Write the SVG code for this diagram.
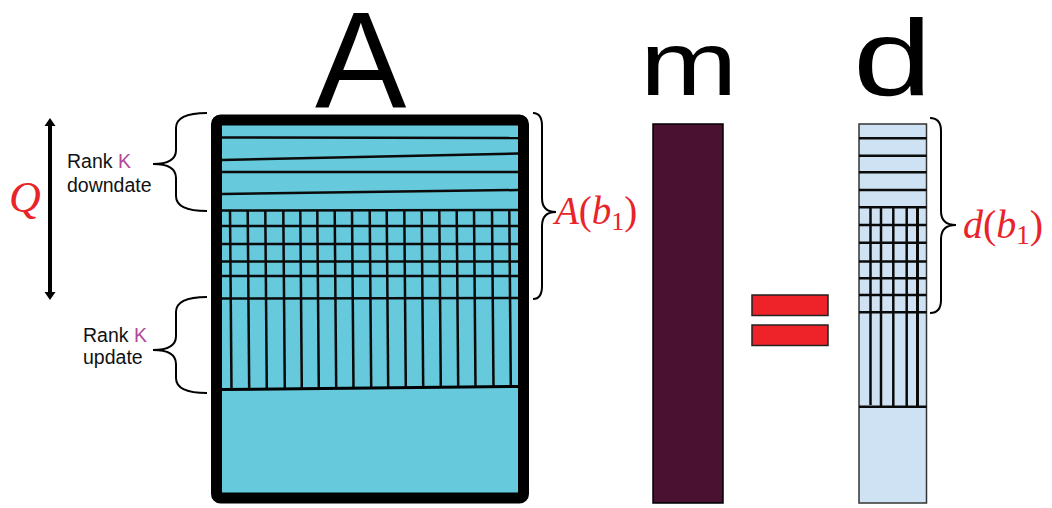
<svg xmlns="http://www.w3.org/2000/svg" width="1052" height="508" viewBox="0 0 1052 508">
<style>
.title{font-family:"Liberation Sans",Arial,sans-serif;fill:#000}
.lbl{font-family:"Liberation Sans",Arial,sans-serif;font-size:19.5px;fill:#111}
.k{fill:#B0479C}
.math{font-family:"Liberation Serif","Times New Roman",serif;fill:#E8232A}
.brace{fill:none;stroke:#000;stroke-width:2}
.gl{stroke:#0a0a0a;stroke-width:2.5;fill:none}
.dl{stroke:#0a0a0a;stroke-width:2.5;fill:none}
</style>
<rect width="1052" height="508" fill="#fff"/>

<g id="title-A"><text class="title" x="315" y="108" font-size="137">A</text></g>
<g id="title-m"><text class="title" transform="translate(640,95) scale(1.3,1)" x="0" y="0" font-size="90">m</text></g>
<g id="title-d"><text class="title" transform="translate(853,95) scale(1.33,1)" x="0" y="0" font-size="107">d</text></g>

<g id="matrix-A">
  <rect x="216.5" y="120" width="307" height="378" rx="4" fill="#66C9DC" stroke="#000" stroke-width="11"/>
  <g class="gl">
    <line x1="222" y1="137.5" x2="518" y2="138"/>
    <line x1="222" y1="160" x2="518" y2="153.5"/>
    <line x1="222" y1="172" x2="518" y2="172"/>
    <line x1="222" y1="194" x2="518" y2="190"/>
    <line x1="222" y1="210.5" x2="518" y2="210"/>
    <line x1="222" y1="226" x2="518" y2="226"/>
    <line x1="222" y1="244" x2="518" y2="244"/>
    <line x1="222" y1="261.5" x2="518" y2="261.5"/>
    <line x1="222" y1="276" x2="518" y2="276"/>
    <line x1="222" y1="298.5" x2="518" y2="298"/>
    <line x1="230" y1="210" x2="231.5" y2="389"/>
    <line x1="247.7" y1="210" x2="249.2" y2="389"/>
    <line x1="265.3" y1="210" x2="266.8" y2="389"/>
    <line x1="283.3" y1="210" x2="284.8" y2="388.7"/>
    <line x1="300.3" y1="210" x2="301.8" y2="388.5"/>
    <line x1="317.3" y1="210" x2="318.8" y2="388.3"/>
    <line x1="334.7" y1="210" x2="336.2" y2="388.2"/>
    <line x1="352" y1="210" x2="353.5" y2="388"/>
    <line x1="369.7" y1="210" x2="371.2" y2="387.9"/>
    <line x1="386.7" y1="210" x2="388.2" y2="387.7"/>
    <line x1="404.3" y1="210" x2="405.8" y2="387.5"/>
    <line x1="421.7" y1="210" x2="423.2" y2="387.4"/>
    <line x1="439.3" y1="210" x2="440.8" y2="387.2"/>
    <line x1="456.7" y1="210" x2="458.2" y2="387.1"/>
    <line x1="474" y1="210" x2="475.5" y2="387"/>
    <line x1="492" y1="210" x2="493.5" y2="386.8"/>
    <line x1="509.3" y1="210" x2="510.8" y2="386.7"/>
  </g>
  <line x1="222" y1="389.5" x2="518" y2="386.5" stroke="#000" stroke-width="3"/>
</g>

<g id="vector-m">
  <rect x="653" y="124" width="70" height="379" fill="#4A1230" stroke="#000" stroke-width="1.5"/>
</g>

<g id="equals">
  <rect x="752" y="295" width="76" height="20.5" fill="#EE2229" stroke="#222" stroke-width="1.5"/>
  <rect x="752" y="325" width="76" height="20.5" fill="#EE2229" stroke="#222" stroke-width="1.5"/>
</g>

<g id="vector-d">
  <rect x="859" y="124" width="67.5" height="379" fill="#CFE2F3" stroke="#333" stroke-width="1.5"/>
  <g class="dl">
    <line x1="859" y1="138.3" x2="926.5" y2="138.3"/>
    <line x1="859" y1="155.7" x2="926.5" y2="155.7"/>
    <line x1="859" y1="172.3" x2="926.5" y2="172.3"/>
    <line x1="859" y1="190" x2="926.5" y2="190"/>
    <line x1="859" y1="207.3" x2="926.5" y2="207.3"/>
    <line x1="859" y1="225" x2="926.5" y2="225"/>
    <line x1="859" y1="242.7" x2="926.5" y2="242.7"/>
    <line x1="859" y1="261.5" x2="926.5" y2="261.5"/>
    <line x1="859" y1="278.3" x2="926.5" y2="278.3"/>
    <line x1="859" y1="295" x2="926.5" y2="295"/>
    <line x1="859" y1="312.3" x2="926.5" y2="312.3"/>
    <line x1="859" y1="406.7" x2="926.5" y2="406.7"/>
    <line x1="870.5" y1="207" x2="870.5" y2="405"/>
    <line x1="881" y1="207" x2="881" y2="406"/>
    <line x1="893.3" y1="207" x2="893.3" y2="406"/>
    <line x1="906.7" y1="207" x2="906.7" y2="406"/>
    <line x1="917.5" y1="207" x2="917.5" y2="406" stroke-width="3"/>
  </g>
</g>

<g id="connectors">
  <path class="brace" d="M207,113 Q176,113 176,128 L176,150 Q176,164 153,164 Q176,164 176,178 L176,196 Q176,211 207,211"/>
  <path class="brace" d="M207,297 Q176,297 176,312 L176,336 Q176,350 153,350 Q176,350 176,364 L176,378 Q176,393 207,393"/>
  <path class="brace" d="M533,113 Q542,113 542,126 L542,198 Q542,212 556,212 Q542,212 542,226 L542,286 Q542,299 533,299"/>
  <path class="brace" d="M930,118 Q941,118 941,131 L941,211 Q941,225 956,225 Q941,225 941,239 L941,300 Q941,313 930,313"/>
  <g id="q-arrow">
    <line x1="50" y1="124" x2="50" y2="294" stroke="#000" stroke-width="4"/>
    <polygon points="50,118 44.5,126 55.5,126" fill="#000"/>
    <polygon points="50,300 44.5,292 55.5,292" fill="#000"/>
  </g>
</g>

<g id="label-downdate">
  <text class="lbl" x="67" y="168">Rank <tspan class="k">K</tspan></text>
  <text class="lbl" x="67" y="192">downdate</text>
</g>
<g id="label-update">
  <text class="lbl" x="83" y="342">Rank <tspan class="k">K</tspan></text>
  <text class="lbl" x="83" y="364">update</text>
</g>
<g id="label-Q"><text class="math" x="9" y="212" font-size="44" font-style="italic">Q</text></g>
<g id="label-Ab1">
  <text class="math" x="555" y="224" font-size="39"><tspan font-style="italic">A</tspan>(<tspan font-style="italic">b</tspan><tspan font-size="26" dy="6">1</tspan><tspan dy="-6">)</tspan></text>
</g>
<g id="label-db1">
  <text class="math" x="963" y="238" font-size="40"><tspan font-style="italic">d</tspan>(<tspan font-style="italic">b</tspan><tspan font-size="27" dy="6">1</tspan><tspan dy="-6">)</tspan></text>
</g>
</svg>
